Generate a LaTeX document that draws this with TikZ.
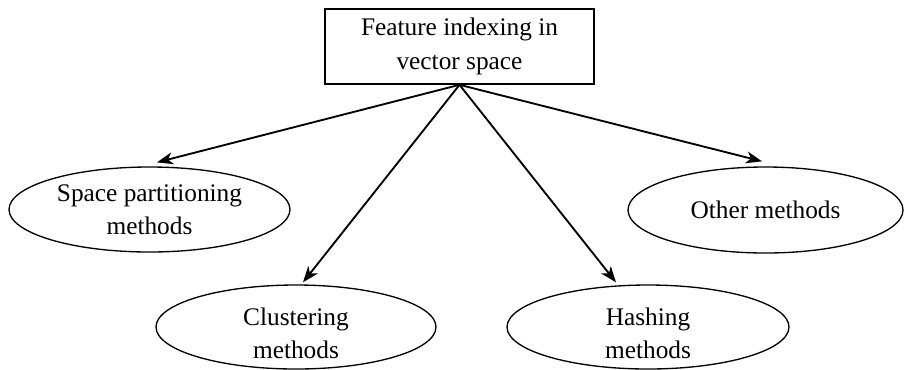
\documentclass[tikz,border=0pt]{standalone}
\usepackage{fontspec}
\setmainfont{Liberation Serif}
\usetikzlibrary{shapes.geometric,arrows.meta,calc}
\begin{document}
\begin{tikzpicture}[x=0.75pt,y=-0.75pt,
  txt/.style={font=\fontsize{19}{25}\selectfont, align=center},
  topbox/.style={txt, draw, line width=1.2pt, minimum width=269*0.75pt, minimum height=75*0.75pt, inner sep=0pt},
  oval/.style={txt, draw, ellipse, line width=1pt, inner sep=0pt},
  arr/.style={-{Stealth[length=12pt,width=9pt,inset=3.5pt]}, line width=1.4pt}]
\useasboundingbox (0,0) rectangle (905,369);
\node[topbox] (top) at (459.5,46.5) {Feature indexing in\\vector space};
\node[oval, minimum width=281*0.75pt, minimum height=85*0.75pt] (sp) at (149.5,209.5) {Space partitioning\\methods};
\node[oval, minimum width=275*0.75pt, minimum height=86*0.75pt] (om) at (765.5,210) {Other methods};
\node[oval, minimum width=280*0.75pt, minimum height=84*0.75pt] (cl) at (296,327) {};
\node[oval, minimum width=282*0.75pt, minimum height=84*0.75pt] (ha) at (648,327) {};
\node[txt] (clt) at (296,333) {Clustering\\methods};
\node[txt] (hat) at (648,333) {Hashing\\methods};
\draw[arr] (top.south) -- ($(sp.north)+(7.5,-4)$);
\draw[arr] (top.south) -- ($(om.north)+(-3.5,-5)$);
\draw[arr] (top.south) -- ($(cl.north)+(7,-2)$);
\draw[arr] (top.south) -- ($(ha.north)+(-32,-2)$);
\end{tikzpicture}
\end{document}
